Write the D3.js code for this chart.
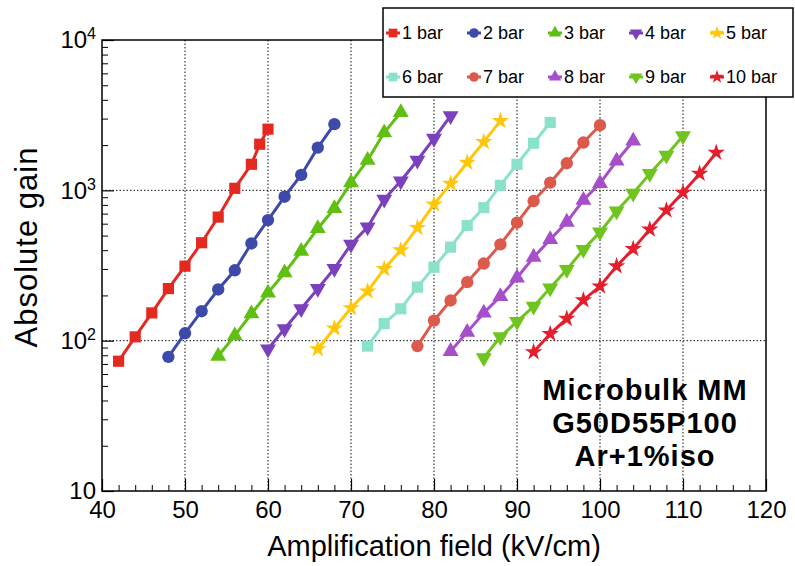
<!DOCTYPE html>
<html>
<head>
<meta charset="utf-8">
<script src="https://cdn.jsdelivr.net/npm/d3@7"></script>
<style>
  body { margin: 0; background: #fff; }
  svg { display: block; font-family: "Liberation Sans", Arial, Helvetica, sans-serif; }
</style>
</head>
<body>
<div id="chart"></div>
<script>
// gain curves, one per pressure
const labels = ["1 bar", "2 bar", "3 bar", "4 bar", "5 bar", "6 bar", "7 bar", "8 bar", "9 bar", "10 bar"];

const field1 = [42, 44, 46, 48, 50, 52, 54, 56, 58, 59, 60];
const gain1 = [73, 106, 153, 222, 313, 448, 664, 1031, 1490, 2027, 2552];
const field2 = [48, 50, 52, 54, 56, 58, 60, 62, 64, 66, 68];
const gain2 = [78, 112, 157, 219, 294, 443, 634, 907, 1265, 1924, 2754];
const field3 = [54, 56, 58, 60, 62, 64, 66, 68, 70, 72, 74, 76];
const gain3 = [79, 108, 151, 208, 283, 394, 558, 759, 1125, 1585, 2422, 3296];
const field4 = [60, 62, 64, 66, 68, 70, 72, 74, 76, 78, 80, 82];
const gain4 = [88, 120, 163, 222, 302, 437, 569, 871, 1153, 1585, 2213, 3126];
const field5 = [66, 68, 70, 72, 74, 76, 78, 80, 82, 84, 86, 88];
const gain5 = [88, 121, 165, 213, 300, 400, 564, 807, 1109, 1531, 2099, 2896];
const field6 = [72, 74, 76, 78, 80, 82, 84, 86, 88, 90, 92, 94];
const gain6 = [92, 130, 163, 227, 308, 419, 584, 767, 1079, 1490, 2056, 2827];
const field7 = [78, 80, 82, 84, 86, 88, 90, 92, 94, 96, 98, 100];
const gain7 = [92, 136, 185, 245, 326, 437, 609, 849, 1125, 1514, 2079, 2712];
const field8 = [82, 84, 86, 88, 90, 92, 94, 96, 98, 100, 102, 104];
const gain8 = [85, 114, 153, 197, 262, 359, 471, 615, 861, 1114, 1567, 2131];
const field9 = [86, 88, 90, 92, 94, 96, 98, 100, 102, 104, 106, 108, 110];
const gain9 = [77, 106, 134, 169, 224, 297, 404, 527, 728, 955, 1291, 1711, 2300];
const field10 = [92, 94, 96, 98, 100, 102, 104, 106, 108, 110, 112, 114];
const gain10 = [84, 111, 140, 186, 230, 313, 408, 550, 736, 966, 1291, 1783];

const xTicks = [40, 50, 60, 70, 80, 90, 100, 110, 120];
const yTicks = [10, 100, 1000, 10000];

const colors = ["#e42a20", "#3d4aa9", "#5fbf12", "#7b41bd", "#ffc70a",
                "#8ae2ca", "#dc5a4b", "#a64fc9", "#6fc420", "#e41f2d"];
const shapes = ["square", "circle", "up", "down", "star", "square", "circle", "up", "down", "star"];

const fields = [field1, field2, field3, field4, field5, field6, field7, field8, field9, field10];
const gains = [gain1, gain2, gain3, gain4, gain5, gain6, gain7, gain8, gain9, gain10];

const series = labels.map((name, i) => ({
    name: name,
    color: colors[i],
    shape: shapes[i],
    points: fields[i].map((f, j) => ({ x: f, y: gains[i][j] }))
}));

const W = 795, H = 566;
const margin = { top: 40, right: 29, bottom: 75, left: 102 };

const x = d3.scaleLinear().domain([40, 120]).range([margin.left, W - margin.right]);
const y = d3.scaleLog().domain([10, 10000]).range([H - margin.bottom, margin.top]);

const svg = d3.select("#chart").append("svg")
    .attr("width", W)
    .attr("height", H);

// grid
svg.append("g")
    .selectAll("line")
    .data(xTicks.slice(1, -1))
    .enter().append("line")
    .attr("x1", d => x(d)).attr("x2", d => x(d))
    .attr("y1", y(10000)).attr("y2", y(10))
    .attr("stroke", "#111").attr("stroke-width", 1).attr("stroke-dasharray", "1.5,2");

svg.append("g")
    .selectAll("line")
    .data(yTicks.slice(1, -1))
    .enter().append("line")
    .attr("x1", x(40)).attr("x2", x(120))
    .attr("y1", d => y(d)).attr("y2", d => y(d))
    .attr("stroke", "#111").attr("stroke-width", 1).attr("stroke-dasharray", "1.5,2");

// x axis (ticks inside)
const xMinor = [];
for (let v = 40; v <= 120; v += 2) if (v % 10 !== 0) xMinor.push(v);

svg.append("g")
    .attr("transform", "translate(0," + y(10) + ")")
    .call(d3.axisBottom(x).tickValues(xMinor).tickSize(-6).tickSizeOuter(0).tickFormat(""))
    .call(g => g.select(".domain").remove());

const xAxis = svg.append("g")
    .attr("class", "x axis")
    .attr("transform", "translate(0," + y(10) + ")")
    .call(d3.axisBottom(x).tickValues(xTicks).tickSize(-12).tickSizeOuter(0).tickPadding(10))
    .call(g => g.select(".domain").remove());
xAxis.selectAll("text").attr("font-size", 24).attr("fill", "#000").attr("font-family", null);
xAxis.selectAll("line").attr("stroke-width", 1.2);

// y axis
const yMinor = [];
[10, 100, 1000].forEach(dec => {
    for (let k = 2; k <= 9; k++) yMinor.push(dec * k);
});

svg.append("g")
    .attr("transform", "translate(" + x(40) + ",0)")
    .call(d3.axisLeft(y).tickValues(yMinor).tickSize(-6).tickSizeOuter(0).tickFormat(""))
    .call(g => g.select(".domain").remove());

const yAxis = svg.append("g")
    .attr("class", "y axis")
    .attr("transform", "translate(" + x(40) + ",0)")
    .call(d3.axisLeft(y).tickValues(yTicks).tickSize(-12).tickSizeOuter(0).tickPadding(6).tickFormat(""))
    .call(g => g.select(".domain").remove());
yAxis.selectAll("line").attr("stroke-width", 1.2);

yAxis.selectAll(".tick text")
    .attr("font-size", 24)
    .attr("fill", "#000")
    .attr("font-family", null)
    .each(function(d) {
        const t = d3.select(this);
        const p = Math.round(Math.log10(d));
        t.append("tspan").text("10");
        if (p > 1) {
            t.append("tspan").attr("font-size", 16).attr("dy", "-0.55em").text(p);
        }
    });

// frame
svg.append("rect")
    .attr("x", x(40)).attr("y", y(10000))
    .attr("width", x(120) - x(40)).attr("height", y(10) - y(10000))
    .attr("fill", "none").attr("stroke", "#000").attr("stroke-width", 1.5);

// axis titles
svg.append("text")
    .attr("x", (x(40) + x(120)) / 2)
    .attr("y", 556)
    .attr("text-anchor", "middle")
    .attr("font-size", 29)
    .text("Amplification field (kV/cm)");

svg.append("text")
    .attr("transform", "translate(37,247) rotate(-90)")
    .attr("text-anchor", "middle")
    .attr("font-size", 31)
    .attr("letter-spacing", 1)
    .text("Absolute gain");

// marker helper
function markerPath(shape, scale) {
    const s = scale || 1;
    if (shape === "square") return d3.symbol(d3.symbolSquare, 125 * s)();
    if (shape === "circle") return d3.symbol(d3.symbolCircle, 120 * s)();
    if (shape === "up" || shape === "down") return d3.symbol(d3.symbolTriangle, 110 * s)();
    return d3.symbol(d3.symbolStar, 95 * s)();
}

const line = d3.line().x(d => x(d.x)).y(d => y(d.y));

const curves = svg.append("g")
    .selectAll("g")
    .data(series)
    .enter().append("g");

curves.append("path")
    .attr("d", d => line(d.points))
    .attr("fill", "none")
    .attr("stroke", d => d.color)
    .attr("stroke-width", 3);

curves.each(function(s) {
    d3.select(this).selectAll(".pt")
        .data(s.points)
        .enter().append("path")
        .attr("class", "pt")
        .attr("d", markerPath(s.shape))
        .attr("transform", d => "translate(" + x(d.x) + "," + y(d.y) + ")" + (s.shape === "down" ? " rotate(180)" : ""))
        .attr("fill", s.color);
});

// legend
const legend = svg.append("g");
legend.append("rect")
    .attr("x", 383).attr("y", 8)
    .attr("width", 410).attr("height", 89)
    .attr("fill", "#fff").attr("stroke", "#000").attr("stroke-width", 1.5);

const item = legend.selectAll(".item")
    .data(series)
    .enter().append("g")
    .attr("class", "item")
    .attr("transform", (d, i) => "translate(" + (393 + (i % 5) * 81) + "," + (33 + Math.floor(i / 5) * 44) + ")");

item.append("line")
    .attr("x1", -7).attr("x2", 7)
    .attr("stroke", d => d.color).attr("stroke-width", 3);

item.append("path")
    .attr("d", d => markerPath(d.shape, 0.6))
    .attr("transform", d => d.shape === "down" ? "rotate(180)" : null)
    .attr("fill", d => d.color);

item.append("text")
    .attr("x", 9)
    .attr("dy", "0.35em")
    .attr("font-size", 18)
    .text(d => d.name);

// annotation
const note = ["Microbulk MM", "G50D55P100", "Ar+1%iso"];
svg.append("g")
    .selectAll("text")
    .data(note)
    .enter().append("text")
    .attr("x", 645)
    .attr("y", (d, i) => 400 + i * 33)
    .attr("text-anchor", "middle")
    .attr("font-size", 29)
    .attr("font-weight", "bold")
    .attr("letter-spacing", 1)
    .text(d => d);
</script>
</body>
</html>
